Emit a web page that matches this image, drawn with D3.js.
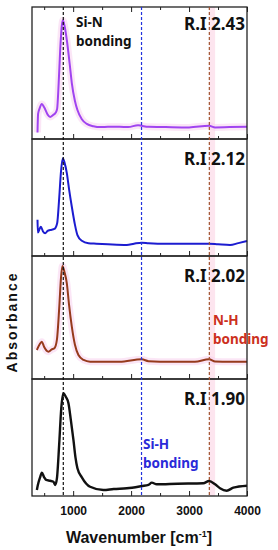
<!DOCTYPE html>
<html><head><meta charset="utf-8">
<script src="https://cdn.jsdelivr.net/npm/d3@7"></script>
<style>
html,body{margin:0;padding:0;background:#fff;}
svg{display:block;}
</style></head>
<body>
<svg id="chart" width="278" height="550"></svg>
<script>
// ---- data ----
const riLabels = ["2.43", "2.12", "2.02", "1.90"];
const seriesColors = ["#a044f0", "#1c1cd0", "#963a1c", "#111111"];

const wn243 = [385,395,420,460,500,560,603,650,700,724,750,776,805,822,850,891,940,977,1030,1074,1150,1236,1350,1465,1600,1800,1950,2120,2184,2300,2600,3000,3345,3450,3700,4000];
const ab243 = [0.05,0.19,0.23,0.265,0.24,0.185,0.167,0.18,0.2,0.23,0.42,0.67,0.86,0.90,0.86,0.75,0.57,0.424,0.29,0.22,0.15,0.114,0.097,0.09,0.092,0.093,0.09,0.105,0.1,0.092,0.09,0.088,0.1,0.088,0.09,0.092];

const wn212 = [385,391,420,443,480,517,560,603,677,724,760,790,822,850,891,930,977,1030,1074,1150,1264,1400,1600,1926,2050,2184,2300,2600,3000,3345,3500,3707,3850,4000];
const ab212 = [0.31,0.2,0.23,0.25,0.21,0.194,0.215,0.222,0.231,0.28,0.5,0.72,0.835,0.8,0.709,0.57,0.421,0.27,0.179,0.13,0.109,0.105,0.1,0.094,0.105,0.114,0.11,0.105,0.105,0.105,0.1,0.094,0.11,0.128];

const wn202 = [374,420,460,500,574,630,677,720,760,790,815,850,891,930,977,1030,1091,1180,1293,1500,1800,2184,2300,2700,3100,3345,3450,3700,4000];
const ab202 = [0.236,0.28,0.303,0.26,0.222,0.24,0.25,0.32,0.58,0.82,0.919,0.87,0.778,0.6,0.425,0.28,0.195,0.155,0.141,0.14,0.14,0.16,0.145,0.14,0.14,0.16,0.142,0.14,0.141];

const wn190 = [374,391,430,460,500,534,600,660,690,720,760,795,833,870,919,960,1005,1040,1074,1150,1293,1522,1700,1926,2184,2300,2357,2443,2800,3246,3345,3450,3534,3650,3764,4000];
const ab190 = [0.051,0.094,0.16,0.199,0.16,0.137,0.13,0.122,0.094,0.15,0.45,0.75,0.878,0.85,0.792,0.65,0.479,0.33,0.237,0.16,0.079,0.051,0.06,0.066,0.085,0.095,0.114,0.1,0.105,0.109,0.128,0.1,0.066,0.045,0.071,0.088];

const bondPositions = [830, 2180, 3350];          // Si-N, Si-H, N-H
const bondColors = ["#111111", "#2233dd", "#a0522d"];
const majorTicks = [1000, 2000, 3000, 4000];
const minorTicks = [500, 1500, 2500, 3500];
const xDomain = [290, 4000];

const series = [
  {wn: wn243, ab: ab243}, {wn: wn212, ab: ab212},
  {wn: wn202, ab: ab202}, {wn: wn190, ab: ab190}
];

// ---- layout ----
const svg = d3.select("#chart");
const left = 32, right = 247;
const panelEdges = [[7,139],[139,256],[256,379],[379,496]];
const x = d3.scaleLinear().domain(xDomain).range([left, right]);

// N-H highlight band
svg.append("rect")
  .attr("x", x(3350)).attr("y", 7)
  .attr("width", x(3450) - x(3350)).attr("height", 496 - 7)
  .attr("fill", "#fde5ef");

series.forEach((s, i) => {
  const [top, bot] = panelEdges[i];
  const y = d3.scaleLinear().domain([0, 1]).range([bot, top]);
  const pts = s.wn.map((w, k) => [w, s.ab[k]]);
  const line = d3.line().x(d => x(d[0])).y(d => y(d[1])).curve(d3.curveMonotoneX);
  if (i === 0 || i === 2) {
    svg.append("path").attr("d", line(pts)).attr("fill", "none")
      .attr("stroke", "#f8d2ee").attr("stroke-width", 7).attr("opacity", 0.55)
      .attr("stroke-linejoin", "round");
  }
  svg.append("path").attr("d", line(pts)).attr("fill", "none")
    .attr("stroke", seriesColors[i]).attr("stroke-width", i === 3 ? 2.4 : 2)
    .attr("stroke-linejoin", "round");

  // ticks at bottom (inward)
  const gMaj = svg.append("g").attr("transform", `translate(0,${bot})`)
    .call(d3.axisBottom(x).tickValues(majorTicks).tickSize(-5).tickFormat(""));
  const gMin = svg.append("g").attr("transform", `translate(0,${bot})`)
    .call(d3.axisBottom(x).tickValues(minorTicks).tickSize(-3).tickFormat(""));
  [gMaj, gMin].forEach(g => { g.select(".domain").remove(); g.selectAll("line").attr("stroke", "#222").attr("stroke-width", 1); });

  if (i === 0) {
    const tMaj = svg.append("g").attr("transform", `translate(0,${top})`)
      .call(d3.axisTop(x).tickValues(majorTicks).tickSize(-5).tickFormat(""));
    const tMin = svg.append("g").attr("transform", `translate(0,${top})`)
      .call(d3.axisTop(x).tickValues(minorTicks).tickSize(-3).tickFormat(""));
    [tMaj, tMin].forEach(g => { g.select(".domain").remove(); g.selectAll("line").attr("stroke", "#222").attr("stroke-width", 1); });
  }

  // frame
  svg.append("rect").attr("x", left).attr("y", top)
    .attr("width", right - left).attr("height", bot - top)
    .attr("fill", "none").attr("stroke", "#222").attr("stroke-width", 1.3);
});

// dashed bond lines
bondPositions.forEach((w, i) => {
  svg.append("line").attr("x1", x(w)).attr("x2", x(w))
    .attr("y1", 7).attr("y2", 496)
    .attr("stroke", bondColors[i]).attr("stroke-width", 1.2)
    .attr("stroke-dasharray", "3,2");
});

// R.I labels
const riBase = [30, 165, 282, 405];
riLabels.forEach((t, i) => {
  svg.append("text").attr("x", 245).attr("y", riBase[i])
    .attr("text-anchor", "end")
    .attr("font-family", "'Noto Sans', 'Liberation Sans', sans-serif")
    .attr("font-weight", "bold").attr("font-size", 17)
    .attr("fill", "#111").text("R.I " + t);
});

// bond annotations (one text element, two lines)
function twoLine(xp, y1, l1, l2, color) {
  const t = svg.append("text")
    .attr("x", xp).attr("y", y1)
    .attr("font-family", "'Noto Sans', 'Liberation Sans', sans-serif")
    .attr("font-weight", "bold").attr("font-size", 13.5).attr("fill", color);
  t.append("tspan").attr("x", xp).text(l1);
  t.append("tspan").attr("x", xp).attr("dy", 18.6).text(l2);
}
twoLine(76, 27, "Si-N", "bonding", "#111");
twoLine(213, 325, "N-H", "bonding", "#cc3020");
twoLine(143, 449, "Si-H", "bonding", "#2a2ad8");

// x axis labels
const gLab = svg.append("g").attr("transform", "translate(0,496)")
  .call(d3.axisBottom(x).tickValues(majorTicks).tickSize(0).tickPadding(10.5).tickFormat(d3.format("d")));
gLab.select(".domain").remove();
gLab.selectAll("text")
  .attr("font-family", "'Liberation Sans Narrow', 'Liberation Sans', Arial, sans-serif")
  .attr("font-weight", "bold").attr("font-size", 12).attr("fill", "#111");

const xt = svg.append("text").attr("x", 139).attr("y", 543)
  .attr("text-anchor", "middle")
  .attr("font-family", "'Liberation Sans Narrow', 'Liberation Sans', Arial, sans-serif")
  .attr("font-weight", "bold").attr("font-size", 16).attr("fill", "#111");
xt.append("tspan").text("Wavenumber [cm");
xt.append("tspan").attr("dy", -6).attr("font-size", 9).text("-1");
xt.append("tspan").attr("dy", 6).text("]");

svg.append("text").attr("transform", "translate(17,322) rotate(-90)")
  .attr("text-anchor", "middle")
  .attr("font-family", "'Liberation Sans', Arial, sans-serif")
  .attr("font-weight", "bold").attr("font-size", 14).attr("letter-spacing", 2)
  .attr("fill", "#111").text("Absorbance");
</script>
</body></html>
